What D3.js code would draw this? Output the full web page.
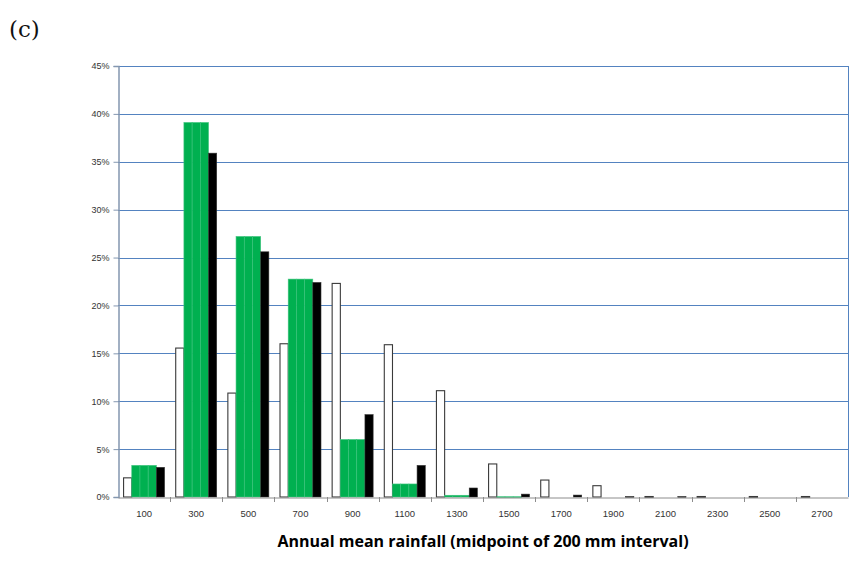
<!DOCTYPE html>
<html>
<head>
<meta charset="utf-8">
<script src="https://cdn.jsdelivr.net/npm/d3@7"></script>
<style>
  html, body { margin: 0; padding: 0; background: #fff; }
  svg { display: block; }
</style>
</head>
<body>
<svg id="chart" width="853" height="562"></svg>
<script>
// ---- data (percent of area, per 200 mm rainfall interval) ----
const categories = ["100","300","500","700","900","1100","1300","1500","1700","1900","2100","2300","2500","2700"];
const whiteValues = [2.0, 15.55, 10.85, 16.0, 22.3, 15.9, 11.1, 3.45, 1.77, 1.18, 0.05, 0.05, 0.05, 0.05];
const greenValues = [3.3, 39.1, 27.2, 22.75, 6.0, 1.36, 0.18, 0.03, 0, 0, 0, 0, 0, 0];
const blackValues = [3.1, 35.9, 25.6, 22.4, 8.6, 3.3, 0.94, 0.3, 0.2, 0.05, 0.05, 0, 0, 0];
const yTicks = [0, 5, 10, 15, 20, 25, 30, 35, 40, 45];
const panelLabel = "(c)";
const xTitle = "Annual mean rainfall (midpoint of 200 mm interval)";

const series = [
  { key: "white",  values: whiteValues, fill: "#ffffff", stroke: "#3a3a3a" },
  { key: "green1", values: greenValues, fill: "#00b050", stroke: "#3cc47d" },
  { key: "green2", values: greenValues, fill: "#00b050", stroke: "#3cc47d" },
  { key: "green3", values: greenValues, fill: "#00b050", stroke: "#3cc47d" },
  { key: "black",  values: blackValues, fill: "#000000", stroke: "#333333" }
];

const svg = d3.select("#chart");
const m = { left: 118, right: 848, top: 66, bottom: 497 };

const x0 = d3.scaleBand().domain(categories).range([m.left, m.right]).paddingInner(0).paddingOuter(0);
const x1 = d3.scaleBand().domain(series.map(s => s.key)).range([0, x0.bandwidth()]).paddingInner(0).paddingOuter(0.68);
const y = d3.scaleLinear().domain([0, 45]).range([m.bottom, m.top]);

// gridlines
svg.append("g").selectAll("line").data(yTicks.filter(t => t > 0)).join("line")
  .attr("x1", m.left).attr("x2", m.right)
  .attr("y1", d => Math.round(y(d)) + 0.5).attr("y2", d => Math.round(y(d)) + 0.5)
  .attr("stroke", "#5383c0").attr("stroke-width", 1);

// right border
svg.append("line").attr("x1", m.right + 0.5).attr("x2", m.right + 0.5)
  .attr("y1", m.top).attr("y2", m.bottom).attr("stroke", "#5383c0");

// bars
const groups = svg.append("g").selectAll("g").data(series).join("g");
groups.selectAll("rect").data(s => s.values.map((v, i) => ({ v, c: categories[i], s })))
  .join("rect")
  .filter(d => d.v > 0)
  .attr("x", d => x0(d.c) + x1(d.s.key))
  .attr("width", x1.bandwidth())
  .attr("y", d => y(d.v))
  .attr("height", d => Math.max(0.8, y(0) - y(d.v)))
  .attr("fill", d => d.s.fill)
  .attr("stroke", d => d.s.stroke)
  .attr("stroke-width", d => d.s.key === "white" ? 1.1 : 0.6);

// y axis
const yAxis = d3.axisLeft(y).tickValues(yTicks).tickSize(5).tickPadding(4)
  .tickFormat(d => d + "%");
const gy = svg.append("g").attr("transform", `translate(${m.left + 0.5},0)`).call(yAxis);
gy.select(".domain").attr("stroke", "#8497b0").attr("stroke-width", 1.5);
gy.selectAll(".tick line").attr("stroke", "#8497b0");
gy.selectAll("text").attr("font-family", "'Liberation Sans', Arial, sans-serif")
  .attr("font-size", 9).attr("fill", "#333");

// x axis
const xAxis = d3.axisBottom(x0).tickSize(0).tickPadding(13);
const gx = svg.append("g").attr("transform", `translate(0,${m.bottom + 0.5})`).call(xAxis);
gx.select(".domain").attr("stroke", "#8c8c8c").attr("stroke-width", 1);
gx.selectAll("text").attr("font-family", "'Liberation Sans', Arial, sans-serif")
  .attr("font-size", 9.5).attr("fill", "#333");
// boundary ticks between categories
svg.append("g").selectAll("line").data(categories.slice(1)).join("line")
  .attr("x1", d => Math.round(x0(d)) + 0.5).attr("x2", d => Math.round(x0(d)) + 0.5)
  .attr("y1", m.bottom).attr("y2", m.bottom + 5)
  .attr("stroke", "#8c8c8c");

// axis title
svg.append("text").attr("x", 483).attr("y", 547)
  .attr("text-anchor", "middle")
  .attr("font-family", "'Open Sans', 'Liberation Sans', sans-serif")
  .attr("font-weight", "bold").attr("font-size", 16).attr("fill", "#000")
  .text(xTitle);

// panel label
svg.append("text").attr("x", 9).attr("y", 37)
  .attr("font-family", "'DejaVu Serif', 'Liberation Serif', serif")
  .attr("font-size", 23).attr("fill", "#111")
  .text(panelLabel);
</script>
</body>
</html>
